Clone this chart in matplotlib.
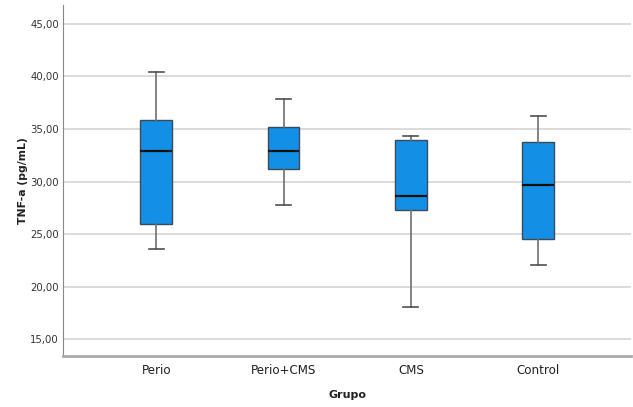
import numpy as np
import matplotlib
matplotlib.use("Agg")
import matplotlib.pyplot as plt

# valores (pg/mL)
grupos = ["Perio", "Perio+CMS", "CMS", "Control"]
whisker_low = [23.6, 27.8, 18.1, 22.1]
q1 = [26.0, 31.15, 27.3, 24.5]
median = [32.9, 32.95, 28.6, 29.7]
q3 = [35.85, 35.2, 33.95, 33.8]
whisker_high = [40.4, 37.9, 34.3, 36.2]
yticks = [15, 20, 25, 30, 35, 40, 45]

stats = []
for i, g in enumerate(grupos):
    stats.append(dict(label=g, whislo=whisker_low[i], q1=q1[i], med=median[i],
                      q3=q3[i], whishi=whisker_high[i], fliers=[]))

fig = plt.figure(figsize=(6.33, 4.07), dpi=100)
ax = fig.add_axes([0.1, 0.1253, 0.897, 0.8624])

ax.set_axisbelow(True)
ax.grid(axis='y', color='#d6d6d6', linewidth=1.2)

ax.bxp(stats, positions=range(len(grupos)), widths=0.25, patch_artist=True,
       showfliers=False,
       boxprops=dict(facecolor='#138fe6', edgecolor='#3a4a58', linewidth=1.0),
       medianprops=dict(color='#111111', linewidth=1.6),
       whiskerprops=dict(color='#707070', linewidth=1.2),
       capprops=dict(color='#505050', linewidth=1.2),
       capwidths=0.12)

ax.set_xlim(-0.73, 3.73)
ax.set_ylim(13.4, 46.8)
ax.set_yticks(yticks)
ax.set_yticklabels([f"{v:.2f}".replace('.', ',') for v in yticks],
                   fontsize=7.3, color='#333333')
ax.set_xticks(range(len(grupos)))
ax.set_xticklabels(grupos, fontsize=8.6, color='#222222')
ax.tick_params(length=0, pad=3)
ax.tick_params(axis='x', pad=6)

for s in ['top', 'right']:
    ax.spines[s].set_visible(False)
ax.spines['left'].set_color('#888888')
ax.spines['bottom'].set_color('#aaaaaa')
ax.spines['bottom'].set_linewidth(2)

ax.set_ylabel('TNF-a (pg/mL)', fontsize=7.8, fontweight='bold', color='#222222', labelpad=2)
ax.set_xlabel('Grupo', fontsize=8, fontweight='bold', color='#222222', labelpad=9)

fig.savefig('out.png', dpi=100)
